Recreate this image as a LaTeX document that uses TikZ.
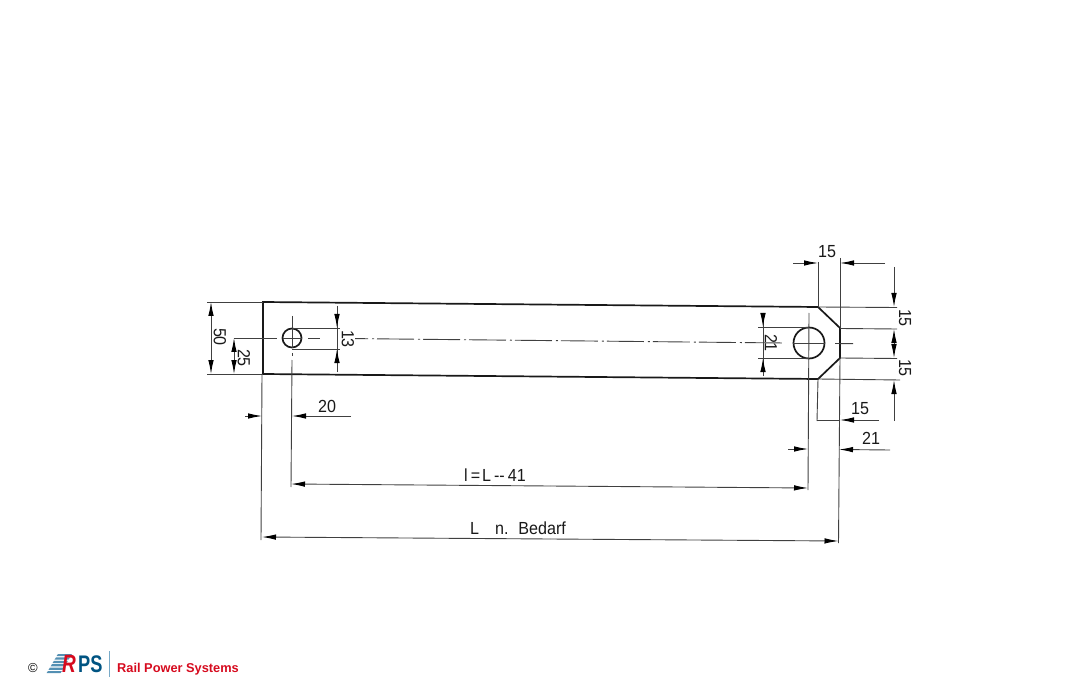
\documentclass[tikz,border=0pt]{standalone}
\usepackage{fontspec}
\setmainfont{Liberation Sans}
\newfontfamily\dimfont[FakeStretch=0.92]{Liberation Sans}
\newfontfamily\logofont[FakeStretch=0.76]{Liberation Sans}
\usetikzlibrary{arrows.meta}
\definecolor{rpsblue}{RGB}{0,84,130}
\definecolor{rpslight}{RGB}{120,170,200}
\definecolor{rpsred}{RGB}{214,10,30}
\tikzset{
  outline/.style={line width=1.7pt,black!90},
  dimline/.style={line width=0.9pt,black!75},
  dimarrow/.style={dimline,-{Latex[length=14pt,width=5.5pt,black]}},
  centerline/.style={line width=0.9pt,black!75,dash pattern=on 37pt off 4pt on 2pt off 3pt,dash phase=24pt},
  dimtext/.style={inner sep=0pt,font=\dimfont\fontsize{17.5}{17.5}\selectfont,black!90}
}
\begin{document}
\begin{tikzpicture}[x=1pt,y=-1pt]
    \useasboundingbox (0,0) rectangle (1073,700);
    % flat bar
    \draw[outline] (263,302) -- (818,307) -- (840,328) -- (840,358) -- (818,379) -- (263,374) -- cycle;
    \draw[outline] (292,338) circle[radius=9.5];
    \draw[outline] (809,343) circle[radius=15.5];
    % center lines
    \draw[centerline] (355,338.6) -- (785,343);
    \draw[dimline] (283,338) -- (302,338);
    \draw[dimline] (308,338) -- (320,338);
    \draw[dimline] (793,343) -- (825,343);
    \draw[dimline] (835,343.5) -- (853,343.7);
    \draw[dimline] (292,316) -- (292,348);
    \draw[dimline] (292,353) -- (292,356);
    \draw[dimline] (292,360) -- (291,487);
    \draw[dimline] (809,313) -- (808,490);
    % extension lines
    \draw[dimline] (207,302) -- (263,302);
    \draw[dimline] (207,374) -- (263,374);
    \draw[dimline] (234,338) -- (277,338);
    \draw[dimline] (262,374) -- (261,540);
    \draw[dimline] (292,328) -- (340,328);
    \draw[dimline] (292,349) -- (340,349);
    \draw[dimline] (758,327) -- (809,327);
    \draw[dimline] (758,358) -- (809,358);
    \draw[dimline] (818,262) -- (818,307);
    \draw[dimline] (840,258) -- (840,328);
    \draw[dimline] (840,358) -- (838.5,543);
    \draw[dimline] (818,379) -- (817,421);
    \draw[dimline] (818,307) -- (897,307.5);
    \draw[dimline] (840,328.5) -- (897,329);
    \draw[dimline] (840,358) -- (897,358.5);
    \draw[dimline] (818,379) -- (900,380);
    % dimension lines
    \draw[dimarrow] (211,338) -- (211,302);
    \draw[dimarrow] (211,338) -- (211,374);
    \draw[dimarrow] (234,356) -- (234,338);
    \draw[dimarrow] (234,356) -- (234,374);
    \draw[dimline] (337,306) -- (337,372);
    \draw[dimarrow] (337,306) -- (337,328);
    \draw[dimarrow] (337,372) -- (337,349);
    \draw[dimline] (763,313) -- (763,376);
    \draw[dimarrow] (763,313) -- (763,327);
    \draw[dimarrow] (763,376) -- (763,358);
    \draw[dimarrow] (245,416) -- (262,416);
    \draw[dimarrow] (351,416) -- (292,416);
    \draw[dimarrow] (550,486) -- (291,484);
    \draw[dimarrow] (550,486) -- (808,488);
    \draw[dimarrow] (550,539) -- (262,537);
    \draw[dimarrow] (550,539) -- (838.5,541);
    \draw[dimarrow] (793,263) -- (818,263);
    \draw[dimarrow] (885,263) -- (840,263);
    \draw[dimarrow] (894,267) -- (894,307);
    \draw[dimarrow] (894,343) -- (894,329);
    \draw[dimarrow] (894,343) -- (894,358);
    \draw[dimarrow] (894,421) -- (894,380);
    \draw[dimarrow] (879,420) -- (840,420);
    \draw[dimline] (840,420) -- (817,420);
    \draw[dimarrow] (788,449) -- (808,449);
    \draw[dimarrow] (890,450) -- (839,449.5);
    % labels
    \node[dimtext,rotate=-90] (width) at (220,337) {50};
    \node[dimtext,rotate=-90] (half) at (244,358) {25};
    \node[dimtext,rotate=-90] (holesmall) at (348,339) {13};
    \node[dimtext,rotate=-90] (holelarge) at (771,343) {21};
    \node[dimtext,rotate=-90] (chamtop) at (905,318) {15};
    \node[dimtext,rotate=-90] (chambot) at (905,368) {15};
    \node[dimtext] (offset) at (327,406) {20};
    \node[dimtext] (chamwidth) at (827,252) {15};
    \node[dimtext] (chamlow) at (860,409) {15};
    \node[dimtext] (endright) at (871,438) {21};
    \node[dimtext] (holes) at (495,475) {l\hspace{3pt}=\hspace{2pt}L\hspace{3pt}--\hspace{3pt}41};
    \node[dimtext] (length) at (518,528) {L\hspace{16pt}n.\hspace{4pt} Bedarf};
    % logo
    \node[inner sep=0pt,font=\fontsize{13}{13}\selectfont] (copy) at (33,668) {\textcopyright};
    \foreach \yy/\xa in {654/58,657.4/56,660.8/54,664.2/52,667.6/50,671/48}
        \fill[rpslight!70!rpsblue] (\xa,\yy) -- (\xa+14,\yy) -- (\xa+12.5,\yy+2.2) -- (\xa-1.5,\yy+2.2) -- cycle;
    \node[inner sep=0pt,font=\logofont\bfseries\itshape\fontsize{25}{25}\selectfont,text=rpsred] (logor) at (69,664) {R};
    \node[inner sep=0pt,font=\logofont\bfseries\fontsize{24}{24}\selectfont,text=rpsblue,anchor=west] (logops) at (78,664) {PS};
    \draw[rpslight,line width=1pt] (109,651) -- (109,677);
    \node[inner sep=0pt,font=\bfseries\fontsize{12.8}{13}\selectfont,text=rpsred,anchor=west] (logotext) at (117,669.5) {Rail Power Systems};
\end{tikzpicture}
\end{document}
